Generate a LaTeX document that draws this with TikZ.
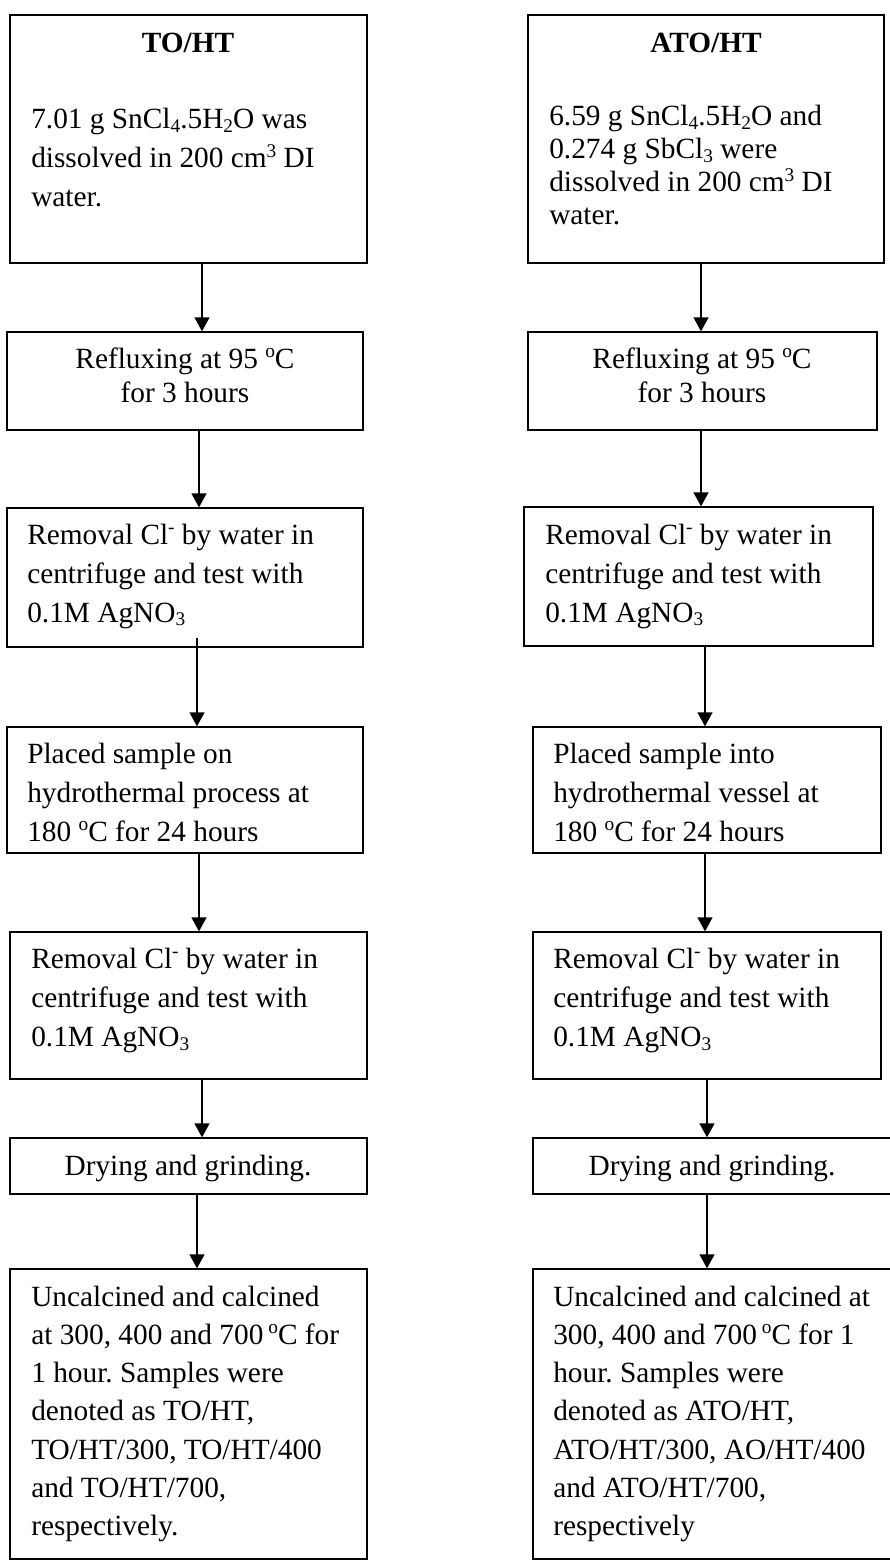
\documentclass[tikz,border=0pt]{standalone}
\usepackage{fontspec}
\setmainfont{Liberation Serif}
\usetikzlibrary{arrows.meta,fit,calc}
\frenchspacing
\newcommand{\mysub}[1]{\raisebox{-0.12em}{\fontsize{14.5}{14.5}\selectfont #1}}
\newcommand{\mysup}[1]{\raisebox{0.36em}{\fontsize{14.5}{14.5}\selectfont #1}}
\newcommand{\degC}{\mysup{o}C}
\begin{document}
\begin{tikzpicture}[x=0.75pt,y=-0.75pt,
  box/.style={draw,line width=1pt,inner sep=0pt},
  txt/.style={inner sep=0pt,anchor=base west},
  ctxt/.style={inner sep=0pt,anchor=base},
  arr/.style={line width=1pt,-{Triangle[width=11.25pt,length=10.5pt]}}]
\useasboundingbox (0,0) rectangle (889,1562);
% ---------- boxes, left column
\node[box,fit={(10,15)(367,263)}] (L1) {};
\node[box,fit={(7,332)(363,430)}] (L2) {};
\node[box,fit={(7,508)(363,647)}] (L3) {};
\node[box,fit={(7,727)(363,853)}] (L4) {};
\node[box,fit={(10,932)(367,1079)}] (L5) {};
\node[box,fit={(10,1138)(367,1194)}] (L6) {};
\node[box,fit={(10,1269)(367,1559)}] (L7) {};
% ---------- boxes, right column
\node[box,fit={(528,15)(884,263)}] (R1) {};
\node[box,fit={(528,332)(877,430)}] (R2) {};
\node[box,fit={(524,507)(873,646)}] (R3) {};
\node[box,fit={(533,727)(881,853)}] (R4) {};
\node[box,fit={(533,932)(881,1079)}] (R5) {};
\node[box,fit={(533,1138)(895,1194)}] (R6) {};
\node[box,fit={(533,1269)(895,1559)}] (R7) {};
% ---------- texts, left column
\node[ctxt] (L1h) at (188,53) {\fontsize{22}{29.25}\selectfont\bfseries TO/HT};
\node[txt] (L1t) at (31,129) {\parbox[t]{300pt}{\fontsize{22}{29.25}\selectfont\raggedright
  7.01 g SnCl\mysub{4}.5H\mysub{2}O was\\
  dissolved in 200 cm\mysup{3} DI\\
  water.}};
\node[ctxt] (L2t) at (185,368) {\parbox[t]{260pt}{\fontsize{22}{25.5}\selectfont\centering
  Refluxing at 95 \degC\\ for 3 hours}};
\node[txt] (L3t) at (27,544) {\parbox[t]{300pt}{\fontsize{22}{29.25}\selectfont\raggedright
  Removal Cl\mysup{-} by water in\\
  centrifuge and test with\\
  0.1M AgNO\mysub{3}}};
\node[txt] (L4t) at (27,763) {\parbox[t]{300pt}{\fontsize{22}{29.25}\selectfont\raggedright
  Placed sample on\\
  hydrothermal process at\\
  180 \degC{} for 24 hours}};
\node[txt] (L5t) at (31,968) {\parbox[t]{300pt}{\fontsize{22}{29.5}\selectfont\raggedright
  Removal Cl\mysup{-} by water in\\
  centrifuge and test with\\
  0.1M AgNO\mysub{3}}};
\node[ctxt] (L6t) at (188,1175) {\fontsize{22}{29.25}\selectfont Drying and grinding.};
\node[txt] (L7t) at (31,1306) {\parbox[t]{300pt}{\fontsize{22}{28.7}\selectfont\raggedright
  Uncalcined and calcined\\
  at 300, 400 and 700\,\degC{} for\\
  1 hour. Samples were\\
  denoted as TO/HT,\\
  TO/HT/300, TO/HT/400\\
  and TO/HT/700,\\
  respectively.}};
% ---------- texts, right column
\node[ctxt] (R1h) at (706,53) {\fontsize{22}{29.25}\selectfont\bfseries ATO/HT};
\node[txt] (R1t) at (549,126) {\parbox[t]{300pt}{\fontsize{22}{24.75}\selectfont\raggedright
  6.59 g SnCl\mysub{4}.5H\mysub{2}O and\\
  0.274 g SbCl\mysub{3} were\\
  dissolved in 200 cm\mysup{3} DI\\
  water.}};
\node[ctxt] (R2t) at (702,368) {\parbox[t]{260pt}{\fontsize{22}{25.5}\selectfont\centering
  Refluxing at 95 \degC\\ for 3 hours}};
\node[txt] (R3t) at (545,544) {\parbox[t]{300pt}{\fontsize{22}{29.25}\selectfont\raggedright
  Removal Cl\mysup{-} by water in\\
  centrifuge and test with\\
  0.1M AgNO\mysub{3}}};
\node[txt] (R4t) at (553,763) {\parbox[t]{300pt}{\fontsize{22}{29.25}\selectfont\raggedright
  Placed sample into\\
  hydrothermal vessel at\\
  180 \degC{} for 24 hours}};
\node[txt] (R5t) at (553,968) {\parbox[t]{300pt}{\fontsize{22}{29.5}\selectfont\raggedright
  Removal Cl\mysup{-} by water in\\
  centrifuge and test with\\
  0.1M AgNO\mysub{3}}};
\node[ctxt] (R6t) at (712,1175) {\fontsize{22}{29.25}\selectfont Drying and grinding.};
\node[txt] (R7t) at (553,1306) {\parbox[t]{300pt}{\fontsize{22}{28.7}\selectfont\raggedright
  Uncalcined and calcined at\\
  300, 400 and 700\,\degC{} for 1\\
  hour. Samples were\\
  denoted as ATO/HT,\\
  ATO/HT/300, AO/HT/400\\
  and ATO/HT/700,\\
  respectively}};
% ---------- arrows, left column
\draw[arr] (L1.south -| 202,0) -- (L2.north -| 202,0);
\draw[arr] (L2.south -| 199,0) -- (L3.north -| 199,0);
\draw[arr] ($(L3.south -| 197,0)+(0,-10)$) -- (L4.north -| 197,0);
\draw[arr] (L4.south -| 199,0) -- (L5.north -| 199,0);
\draw[arr] (L5.south -| 202,0) -- (L6.north -| 202,0);
\draw[arr] (L6.south -| 197,0) -- (L7.north -| 197,0);
% ---------- arrows, right column
\draw[arr] (R1.south -| 701,0) -- (R2.north -| 701,0);
\draw[arr] (R2.south -| 701,0) -- (R3.north -| 701,0);
\draw[arr] (R3.south -| 705,0) -- (R4.north -| 705,0);
\draw[arr] (R4.south -| 705,0) -- (R5.north -| 705,0);
\draw[arr] (R5.south -| 707,0) -- (R6.north -| 707,0);
\draw[arr] (R6.south -| 707,0) -- (R7.north -| 707,0);
\end{tikzpicture}
\end{document}
